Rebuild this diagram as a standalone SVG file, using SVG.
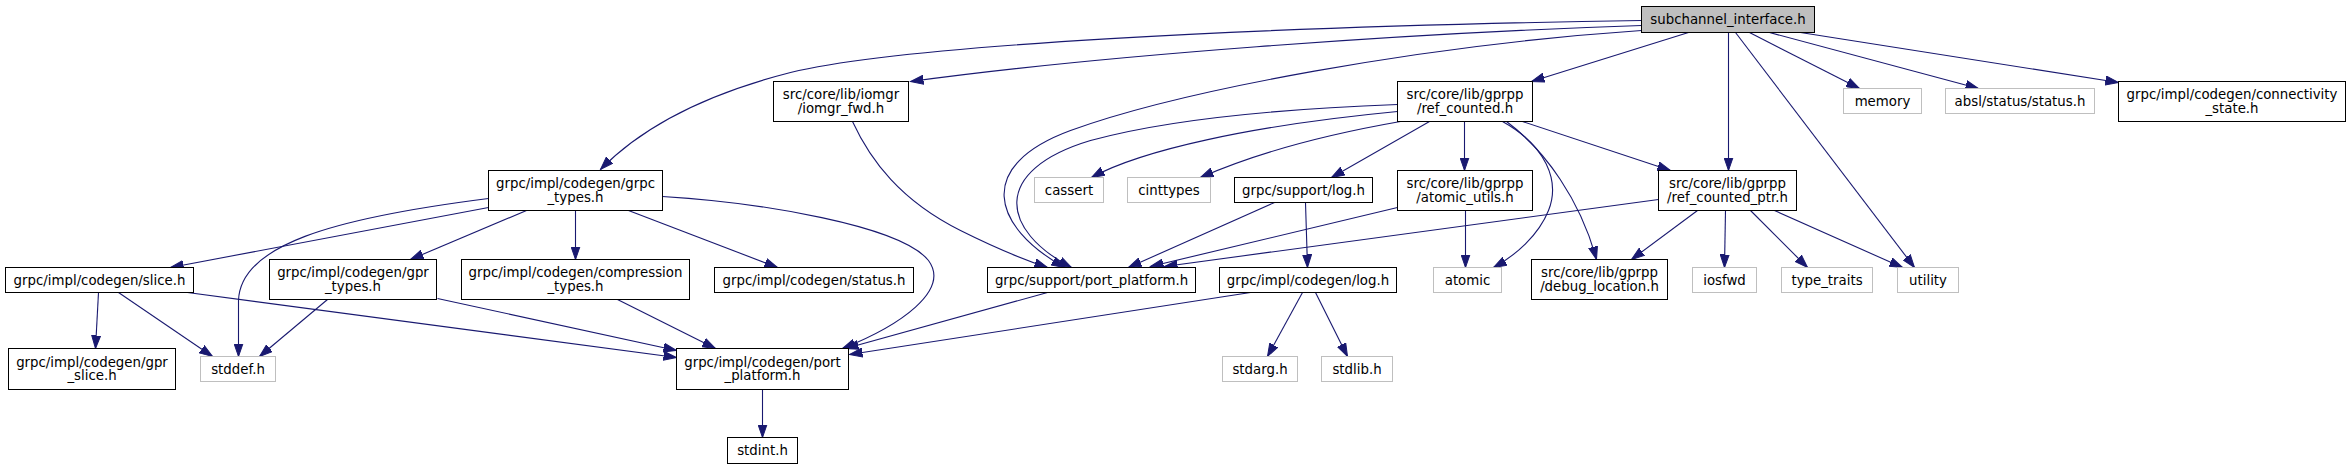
<svg xmlns="http://www.w3.org/2000/svg" width="2350" height="469" viewBox="0 0 2350 469">
<style>
rect{fill:#fff;stroke:#000;stroke-width:1}
.g rect{stroke:#bfbfbf}
.root rect{fill:#bfbfbf;stroke:#000}
text{font-family:"DejaVu Sans","Liberation Sans",sans-serif;font-size:13.33px;fill:#000;text-anchor:middle}
#edges path{fill:none;stroke:#191970;stroke-width:1.1;marker-end:url(#a)}
</style>
<defs>
<marker id="a" markerUnits="userSpaceOnUse" markerWidth="14" markerHeight="10" viewBox="0 0 14 10" refX="13" refY="5" orient="auto">
<path d="M0,0.5 L13,5 L0,9.5 z" fill="#191970" stroke="#191970" stroke-width="1"/>
</marker>
</defs>
<rect x="0" y="0" width="2350" height="469" style="fill:#fff;stroke:none"/>
<g transform="translate(0.5 0.5)">
<g id="edges">
<path d="M1641,20 C1250,26 900,45 790,72 C700,95 640,128 600,169"/>
<path d="M1641,25 C1400,33 1100,55 910,81"/>
<path d="M1641,30 C1420,45 1180,90 1070,130 C975,165 990,225 1064,267"/>
<path d="M1688,32 L1531,81"/>
<path d="M1728,32 L1728,170"/>
<path d="M1735,32 L1914,267"/>
<path d="M1749,32 L1859,88"/>
<path d="M1769,32 L1978,88"/>
<path d="M1800,32 L2118,82"/>
<path d="M488,207 L170,267"/>
<path d="M488,198 C330,218 240,245 238,300 L238,356"/>
<path d="M526,210 L410,259"/>
<path d="M575,210 L575,259"/>
<path d="M628,210 L777,267"/>
<path d="M662,196 C760,202 900,225 928,260 C950,290 900,325 842,348"/>
<path d="M852,121 C870,160 900,200 960,230 C990,245 1020,258 1047,267"/>
<path d="M1397,104 C1290,108 1170,118 1090,140 C990,170 1000,230 1071,267"/>
<path d="M1397,111 C1250,125 1140,150 1091,177"/>
<path d="M1400,121 C1320,135 1250,155 1200,177"/>
<path d="M1429,121 L1331,177"/>
<path d="M1464,121 L1464,170"/>
<path d="M1502,121 C1545,145 1560,180 1548,210 C1538,235 1515,255 1493,267"/>
<path d="M1506,121 C1545,150 1580,200 1596,259"/>
<path d="M1522,121 L1670,170"/>
<path d="M1274,202 L1128,267"/>
<path d="M1305,202 L1307,267"/>
<path d="M1397,207 L1150,266"/>
<path d="M1465,210 L1465,267"/>
<path d="M1658,199 L1164,266"/>
<path d="M1697,210 L1631,259"/>
<path d="M1725,210 L1724,267"/>
<path d="M1750,210 L1807,267"/>
<path d="M1774,210 L1902,267"/>
<path d="M98,292 L95,348"/>
<path d="M118,292 L212,356"/>
<path d="M187,292 L676,357"/>
<path d="M327,299 L259,356"/>
<path d="M437,298 L676,350"/>
<path d="M617,299 L715,348"/>
<path d="M1047,292 L845,348"/>
<path d="M1250,292 L849,354"/>
<path d="M1302,292 L1267,356"/>
<path d="M1315,292 L1347,356"/>
<path d="M762,389 L762,437"/>
</g>
<g id="n0" class="root"><rect x="1641" y="6" width="173" height="26"/><text x="1727.5" y="23.5">subchannel_interface.h</text></g>
<g id="n1"><rect x="773" y="81" width="135" height="40"/><text x="840.5" y="98.8">src/core/lib/iomgr</text><text x="840.5" y="112.2">/iomgr_fwd.h</text></g>
<g id="n2"><rect x="1397" y="81" width="135" height="40"/><text x="1464.5" y="98.8">src/core/lib/gprpp</text><text x="1464.5" y="112.2">/ref_counted.h</text></g>
<g id="n3" class="g"><rect x="1843" y="88" width="78" height="25"/><text x="1882" y="105">memory</text></g>
<g id="n4" class="g"><rect x="1945" y="88" width="149" height="25"/><text x="2019.5" y="105">absl/status/status.h</text></g>
<g id="n5"><rect x="2118" y="81" width="227" height="40"/><text x="2231.5" y="98.8">grpc/impl/codegen/connectivity</text><text x="2231.5" y="112.2">_state.h</text></g>
<g id="n6"><rect x="488" y="170" width="174" height="40"/><text x="575" y="187.8">grpc/impl/codegen/grpc</text><text x="575" y="201.2">_types.h</text></g>
<g id="n7" class="g"><rect x="1034" y="177" width="69" height="25"/><text x="1068.5" y="194">cassert</text></g>
<g id="n8" class="g"><rect x="1127" y="177" width="83" height="25"/><text x="1168.5" y="194">cinttypes</text></g>
<g id="n9"><rect x="1234" y="177" width="138" height="25"/><text x="1303" y="194">grpc/support/log.h</text></g>
<g id="n10"><rect x="1397" y="170" width="135" height="40"/><text x="1464.5" y="187.8">src/core/lib/gprpp</text><text x="1464.5" y="201.2">/atomic_utils.h</text></g>
<g id="n11"><rect x="1658" y="170" width="138" height="40"/><text x="1727" y="187.8">src/core/lib/gprpp</text><text x="1727" y="201.2">/ref_counted_ptr.h</text></g>
<g id="n12"><rect x="5" y="267" width="188" height="25"/><text x="99" y="284">grpc/impl/codegen/slice.h</text></g>
<g id="n13"><rect x="269" y="259" width="167" height="40"/><text x="352.5" y="276.8">grpc/impl/codegen/gpr</text><text x="352.5" y="290.2">_types.h</text></g>
<g id="n14"><rect x="461" y="259" width="228" height="40"/><text x="575" y="276.8">grpc/impl/codegen/compression</text><text x="575" y="290.2">_types.h</text></g>
<g id="n15"><rect x="714" y="267" width="199" height="25"/><text x="813.5" y="284">grpc/impl/codegen/status.h</text></g>
<g id="n16"><rect x="987" y="267" width="208" height="25"/><text x="1091" y="284">grpc/support/port_platform.h</text></g>
<g id="n17"><rect x="1219" y="267" width="177" height="25"/><text x="1307.5" y="284">grpc/impl/codegen/log.h</text></g>
<g id="n18" class="g"><rect x="1433" y="267" width="68" height="25"/><text x="1467" y="284">atomic</text></g>
<g id="n19"><rect x="1531" y="259" width="136" height="40"/><text x="1599" y="276.8">src/core/lib/gprpp</text><text x="1599" y="290.2">/debug_location.h</text></g>
<g id="n20" class="g"><rect x="1692" y="267" width="64" height="25"/><text x="1724" y="284">iosfwd</text></g>
<g id="n21" class="g"><rect x="1781" y="267" width="91" height="25"/><text x="1826.5" y="284">type_traits</text></g>
<g id="n22" class="g"><rect x="1897" y="267" width="61" height="25"/><text x="1927.5" y="284">utility</text></g>
<g id="n23"><rect x="8" y="348" width="167" height="41"/><text x="91.5" y="366">grpc/impl/codegen/gpr</text><text x="91.5" y="379.5">_slice.h</text></g>
<g id="n24" class="g"><rect x="200" y="356" width="75" height="25"/><text x="237.5" y="373">stddef.h</text></g>
<g id="n25"><rect x="676" y="348" width="172" height="41"/><text x="762" y="366">grpc/impl/codegen/port</text><text x="762" y="379.5">_platform.h</text></g>
<g id="n26" class="g"><rect x="1222" y="356" width="75" height="25"/><text x="1259.5" y="373">stdarg.h</text></g>
<g id="n27" class="g"><rect x="1321" y="356" width="71" height="25"/><text x="1356.5" y="373">stdlib.h</text></g>
<g id="n28"><rect x="727" y="437" width="70" height="26"/><text x="762" y="454.5">stdint.h</text></g>
</g>
</svg>
